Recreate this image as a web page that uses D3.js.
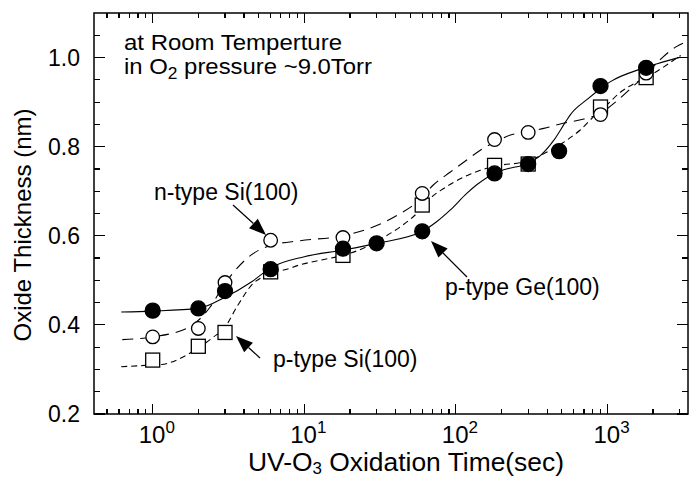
<!DOCTYPE html>
<html>
<head>
<meta charset="utf-8">
<script src="https://cdn.jsdelivr.net/npm/d3@7"></script>
<style>
  html, body { margin: 0; padding: 0; background: #fff; }
  svg { display: block; }
  text { font-family: "Liberation Sans", Arial, sans-serif; fill: #000; }
</style>
</head>
<body>
<svg id="chart" width="696" height="478"></svg>
<script>
// ---------- data ----------
const timesGe  = [1, 2, 3, 6, 18, 30, 60, 180, 300, 480, 900, 1800];
const thickGe  = [0.432, 0.437, 0.476, 0.525, 0.571, 0.583, 0.610, 0.740, 0.761, 0.790, 0.936, 0.977];

const timesSi  = [1, 2, 3, 6, 18, 60, 180, 300, 900, 1800];
const thickNSi = [0.373, 0.392, 0.495, 0.590, 0.596, 0.695, 0.816, 0.832, 0.872, 0.965];
const thickPSi = [0.321, 0.352, 0.383, 0.519, 0.556, 0.669, 0.758, 0.761, 0.889, 0.955];

// fitted guide curves
const fitGeT = [0.62, 1, 2, 3, 4.5, 6, 10, 18, 30, 60, 75, 92, 118, 138, 180, 207, 300, 361, 442, 528, 570, 735, 900, 1048, 1650, 2133, 3040];
const fitGeY = [0.429, 0.431, 0.437, 0.462, 0.497, 0.528, 0.553, 0.568, 0.583, 0.610, 0.632, 0.658, 0.695, 0.715, 0.740, 0.748, 0.763, 0.780, 0.814, 0.855, 0.872, 0.906, 0.930, 0.946, 0.974, 0.986, 1.001];

const fitNT = [0.63, 1, 1.76, 2.38, 3, 4.6, 6, 9.4, 18, 25, 32.5, 43, 55, 60, 71, 92, 118, 145, 180, 229, 300, 380, 502, 700, 900, 1130, 1418, 1800, 2303, 2830, 3150];
const fitNY = [0.367, 0.373, 0.396, 0.439, 0.493, 0.560, 0.578, 0.589, 0.600, 0.613, 0.628, 0.650, 0.675, 0.688, 0.714, 0.743, 0.770, 0.792, 0.810, 0.826, 0.834, 0.841, 0.852, 0.862, 0.875, 0.900, 0.930, 0.962, 1.000, 1.024, 1.032];

const fitPT = [0.62, 1, 1.14, 1.67, 2, 2.5, 3, 3.6, 4.6, 5.35, 6.24, 7.3, 9.4, 12.7, 18, 25.7, 34, 43, 50, 60, 71, 83, 97, 124, 145, 180, 267, 300, 361, 421, 542, 664, 815, 900, 1248, 1488, 1800, 3040];
const fitPY = [0.306, 0.310, 0.311, 0.332, 0.348, 0.372, 0.395, 0.441, 0.493, 0.508, 0.519, 0.523, 0.535, 0.545, 0.556, 0.575, 0.598, 0.620, 0.637, 0.662, 0.690, 0.706, 0.720, 0.738, 0.747, 0.756, 0.764, 0.767, 0.780, 0.792, 0.815, 0.838, 0.868, 0.880, 0.925, 0.941, 0.955, 1.005];

const xMajorTicks = [1, 10, 100, 1000];
const xTickExp    = ["0", "1", "2", "3"];
const yMajorTicks = [0.2, 0.4, 0.6, 0.8, 1.0];
const yTickLabels = ["0.2", "0.4", "0.6", "0.8", "1.0"];

// ---------- layout ----------
const svg = d3.select("#chart");
const L = 94, R = 688, T = 13, B = 414;
const x = d3.scaleLog().domain([0.41, 3400]).range([L, R]);
const y = d3.scaleLinear().domain([0.2, 1.1]).range([B, T]);

svg.append("rect").attr("width", 696).attr("height", 478).attr("fill", "#fff");

// minor ticks
const xMinor = [];
for (let e = -1; e <= 3; e++) for (let m = 2; m <= 9; m++) {
  const v = m * Math.pow(10, e);
  if (v > 0.41 && v < 3400) xMinor.push(v);
}
const yMinor = d3.range(0.25, 1.1, 0.05).filter(v => !yMajorTicks.some(t => Math.abs(t - v) < 1e-6) && v < 1.099);

const ax = svg.append("g").attr("stroke", "#000").attr("stroke-width", 1.2).attr("shape-rendering", "crispEdges");
xMajorTicks.forEach(v => {
  ax.append("line").attr("x1", x(v)).attr("x2", x(v)).attr("y1", B).attr("y2", B - 10);
  ax.append("line").attr("x1", x(v)).attr("x2", x(v)).attr("y1", T).attr("y2", T + 10);
});
xMinor.forEach(v => {
  ax.append("line").attr("x1", x(v)).attr("x2", x(v)).attr("y1", B).attr("y2", B - 5);
  ax.append("line").attr("x1", x(v)).attr("x2", x(v)).attr("y1", T).attr("y2", T + 5);
});
yMajorTicks.forEach(v => {
  ax.append("line").attr("x1", L).attr("x2", L + 11).attr("y1", y(v)).attr("y2", y(v));
  ax.append("line").attr("x1", R).attr("x2", R - 11).attr("y1", y(v)).attr("y2", y(v));
});
yMinor.forEach(v => {
  ax.append("line").attr("x1", L).attr("x2", L + 6).attr("y1", y(v)).attr("y2", y(v));
  ax.append("line").attr("x1", R).attr("x2", R - 6).attr("y1", y(v)).attr("y2", y(v));
});
svg.append("rect").attr("x", L).attr("y", T).attr("width", R - L).attr("height", B - T)
  .attr("fill", "none").attr("stroke", "#000").attr("stroke-width", 1.5);

// tick labels
yMajorTicks.forEach((v, i) => {
  svg.append("text").attr("x", 80).attr("y", y(v) + 8).attr("text-anchor", "end")
    .attr("font-size", 23).text(yTickLabels[i]);
});
xMajorTicks.forEach((v, i) => {
  const t = svg.append("text").attr("x", x(v) - 14).attr("y", 443).attr("font-size", 24);
  t.append("tspan").text("10");
  t.append("tspan").attr("dy", -10).attr("font-size", 17).text(xTickExp[i]);
});

// axis titles
const xt = svg.append("text").attr("x", 248).attr("y", 471).attr("font-size", 25)
  .attr("textLength", 316).attr("lengthAdjust", "spacingAndGlyphs");
xt.append("tspan").text("UV-O");
xt.append("tspan").attr("dy", 3).attr("font-size", 16).text("3");
xt.append("tspan").attr("dy", -3).text(" Oxidation Time(sec)");

svg.append("text").attr("transform", "translate(31,225) rotate(-90)")
  .attr("text-anchor", "middle").attr("font-size", 24).text("Oxide Thickness (nm)");

// ---------- curves ----------
const line = d3.line().x(d => x(d[0])).y(d => y(d[1])).curve(d3.curveMonotoneX);
const curves = svg.append("g").attr("fill", "none").attr("stroke", "#000").attr("stroke-width", 1.1);
curves.append("path").attr("d", line(fitPT.map((t, i) => [t, fitPY[i]]))).attr("stroke-dasharray", "6,4");
curves.append("path").attr("d", line(fitNT.map((t, i) => [t, fitNY[i]]))).attr("stroke-dasharray", "11,7");
curves.append("path").attr("d", line(fitGeT.map((t, i) => [t, fitGeY[i]])));

// ---------- markers ----------
const mk = svg.append("g").attr("stroke", "#000").attr("stroke-width", 1.3);
mk.selectAll("rect.psi").data(timesSi.map((t, i) => [t, thickPSi[i]])).join("rect")
  .attr("class", "psi").attr("x", d => x(d[0]) - 7).attr("y", d => y(d[1]) - 7)
  .attr("width", 14).attr("height", 14).attr("fill", "#fff");
mk.selectAll("circle.nsi").data(timesSi.map((t, i) => [t, thickNSi[i]])).join("circle")
  .attr("class", "nsi").attr("cx", d => x(d[0])).attr("cy", d => y(d[1])).attr("r", 6.8).attr("fill", "#fff");
mk.selectAll("circle.ge").data(timesGe.map((t, i) => [t, thickGe[i]])).join("circle")
  .attr("class", "ge").attr("cx", d => x(d[0])).attr("cy", d => y(d[1])).attr("r", 7.5).attr("fill", "#000");

// ---------- annotations ----------
svg.append("text").attr("x", 124).attr("y", 50).attr("font-size", 22)
  .attr("textLength", 218).attr("lengthAdjust", "spacingAndGlyphs").text("at Room Temperture");
const t2 = svg.append("text").attr("x", 124).attr("y", 74).attr("font-size", 22)
  .attr("textLength", 248).attr("lengthAdjust", "spacingAndGlyphs");
t2.append("tspan").text("in O");
t2.append("tspan").attr("dy", 5).attr("font-size", 16).text("2");
t2.append("tspan").attr("dy", -5).text(" pressure ~9.0Torr");

svg.append("text").attr("x", 154).attr("y", 200).attr("font-size", 23).text("n-type Si(100)");
svg.append("text").attr("x", 273).attr("y", 367).attr("font-size", 23).text("p-type Si(100)");
svg.append("text").attr("x", 445).attr("y", 295).attr("font-size", 23).text("p-type Ge(100)");

function arrow(x1, y1, x2, y2) {
  const dx = x2 - x1, dy = y2 - y1, len = Math.hypot(dx, dy);
  const ux = dx / len, uy = dy / len, hl = 17, hw = 6.5;
  const bx = x2 - ux * hl, by = y2 - uy * hl;
  svg.append("line").attr("x1", x1).attr("y1", y1).attr("x2", bx).attr("y2", by)
    .attr("stroke", "#000").attr("stroke-width", 1.2);
  svg.append("path").attr("d",
    `M${x2},${y2}L${bx - uy * hw},${by + ux * hw}L${bx + uy * hw},${by - ux * hw}Z`)
    .attr("fill", "#000");
}
arrow(233, 205, 266, 235);
arrow(260, 358, 236, 336);
arrow(467, 277, 431, 241);
</script>
</body>
</html>
